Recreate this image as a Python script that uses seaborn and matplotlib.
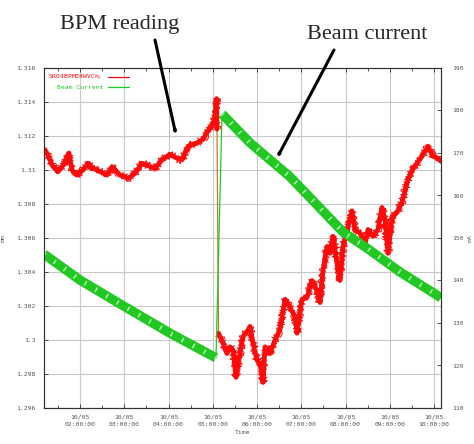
import numpy as np
import pandas as pd
import matplotlib
matplotlib.use("Agg")
import matplotlib.pyplot as plt
import matplotlib.dates as mdates
from matplotlib.ticker import FixedLocator, FuncFormatter
from matplotlib.patches import FancyArrowPatch
import seaborn as sns

# BPM vertical position (mm), hours after midnight on 10/05
bpm_hours = [1.209, 1.390, 1.503, 1.661, 1.751, 1.819, 1.932, 2.068, 2.181, 2.294,
             2.452, 2.610, 2.723, 2.904, 3.085, 3.243, 3.401, 3.582, 3.695, 3.853,
             4.034, 4.192, 4.305, 4.441, 4.644, 4.780, 4.870, 4.983, 5.051, 5.085,
             5.096,
             5.130, 5.232, 5.322, 5.390, 5.458, 5.525, 5.616, 5.684, 5.774, 5.842,
             5.910, 6.000, 6.068, 6.136, 6.181, 6.294, 6.407, 6.520, 6.633, 6.746,
             6.859, 6.904, 7.017, 7.130, 7.243, 7.356, 7.424, 7.492, 7.582, 7.650,
             7.718, 7.808, 7.876, 7.944, 8.056, 8.147, 8.215, 8.328, 8.441, 8.508,
             8.621, 8.734, 8.825, 8.893, 8.960, 9.051, 9.164, 9.277, 9.345, 9.412,
             9.503, 9.616, 9.729, 9.864, 9.977, 10.090, 10.158]
bpm_mm = [1.3112, 1.3102, 1.3099, 1.3104, 1.3110, 1.3100, 1.3097, 1.3100, 1.3104, 1.3101,
          1.3099, 1.3097, 1.3102, 1.3097, 1.3095, 1.3098, 1.3104, 1.3102, 1.3101, 1.3106,
          1.3109, 1.3107, 1.3106, 1.3114, 1.3116, 1.3118, 1.3122, 1.3126, 1.3131, 1.3142,
          1.3124,
          1.3004, 1.2998, 1.2992, 1.2996, 1.2994, 1.2978, 1.2992, 1.3002, 1.3005, 1.3008,
          1.2998, 1.2988, 1.2986, 1.2975, 1.2996, 1.2992, 1.3000, 1.3006, 1.3024, 1.3019,
          1.3014, 1.3004, 1.3024, 1.3025, 1.3035, 1.3029, 1.3022, 1.3041, 1.3055, 1.3051,
          1.3061, 1.3045, 1.3035, 1.3055, 1.3066, 1.3076, 1.3065, 1.3063, 1.3057, 1.3065,
          1.3061, 1.3065, 1.3078, 1.3071, 1.3051, 1.3072, 1.3075, 1.3081, 1.3088, 1.3094,
          1.3100, 1.3104, 1.3108, 1.3114, 1.3108, 1.3107, 1.3105]
bpm_jump = 31  # first sample after the refill step

# Stored beam current (mA)
beam_hours = [1.186, 2.000, 2.904, 4.034, 5.073, 5.209, 5.842, 6.746, 7.944, 8.486, 9.232, 10.090, 10.158]
beam_mA = [146.2, 140.1, 134.5, 127.6, 121.8, 179.2, 172.4, 164.4, 151.4, 147.6, 142.0, 136.4, 135.9]
beam_jump = 5

bpm_name = "SR04BPM04WVCh$_y$"
beam_name = "Beam Current"
left_ticks = [1.296, 1.298, 1.300, 1.302, 1.304, 1.306, 1.308, 1.310, 1.312, 1.314, 1.316]
right_ticks = [110, 120, 130, 140, 150, 160, 170, 180, 190]

day = pd.Timestamp("2008-10-05")


def to_time(hours):
    return day + pd.to_timedelta(np.asarray(hours), unit="h")


bpm = pd.DataFrame({"time": to_time(bpm_hours), "mm": bpm_mm})
beam = pd.DataFrame({"time": to_time(beam_hours), "mA": beam_mA})

sns.set_style("white")
plt.rcParams["font.family"] = ["DejaVu Sans"]

fig = plt.figure(figsize=(4.74, 4.44), dpi=100)
ax = fig.add_axes([44 / 474, 36 / 444, 397 / 474, 340 / 444])
ax2 = ax.twinx()

red = "#ff0a0a"
green = "#22c822"


def draw(frame, y, target, color, lw, **kw):
    before = len(target.lines)
    sns.lineplot(data=frame, x="time", y=y, ax=target, color=color, lw=lw,
                 sort=False, estimator=None, legend=False, **kw)
    return target.lines[before:]


# BPM trace: thin line across the step, noisy band on either side
draw(bpm, "mm", ax, "#c8781e", 0.9)
for part in (bpm.iloc[:bpm_jump], bpm.iloc[bpm_jump:]):
    draw(part, "mm", ax, red, 3.4)
    for ln in draw(part, "mm", ax, red, 0.7):
        ln.set_sketch_params(scale=4.0, length=3, randomness=4)
    for ln in draw(part, "mm", ax, red, 0.6):
        ln.set_sketch_params(scale=3.0, length=6, randomness=6)

# Beam current: thin step, thick top-up band with light streaks
draw(beam, "mA", ax2, green, 0.9)
for part in (beam.iloc[:beam_jump], beam.iloc[beam_jump:]):
    for ln in draw(part, "mA", ax2, green, 6.8):
        ln.set_solid_capstyle("butt")
    for ln in draw(part, "mA", ax2, "#b4f0b4", 3.6):
        ln.set_dashes([0.3, 2.2])
        ln.set_dash_capstyle("butt")

ax.set_xlim(to_time([1.186])[0], to_time([10.158])[0])
ax.set_ylim(1.296, 1.316)
ax2.set_ylim(110, 190)

mono = "DejaVu Sans Mono"
gray = "#555555"

ax.xaxis.set_major_locator(mdates.HourLocator())
ax.xaxis.set_minor_locator(mdates.MinuteLocator(byminute=[30]))
ax.xaxis.set_major_formatter(mdates.DateFormatter("%m/%d\n%H:%M:%S"))
ax.yaxis.set_major_locator(FixedLocator(left_ticks))
ax.yaxis.set_major_formatter(FuncFormatter(lambda v, p: f"{v:g}"))
ax2.yaxis.set_major_locator(FixedLocator(right_ticks))
ax2.yaxis.set_major_formatter(FuncFormatter(lambda v, p: f"{v:g}"))

ax.grid(True, which="major", color="#c8c8c8", lw=0.8)
ax.set_axisbelow(True)
ax2.grid(False)

ax.tick_params(axis="x", which="both", direction="in", top=True, bottom=True,
               length=3, width=0.6, color="#333333", pad=5)
ax.tick_params(axis="x", which="minor", length=2)
ax.tick_params(axis="y", direction="in", left=True, right=False, length=3,
               width=0.6, color="#333333", pad=6)
ax2.tick_params(axis="y", direction="in", right=True, length=3, width=0.6,
                color="#333333", pad=8)
for lab in ax.get_xticklabels() + ax.get_yticklabels() + ax2.get_yticklabels():
    lab.set_fontfamily(mono)
    lab.set_fontsize(4.6)
    lab.set_color(gray)
for lab in ax.get_xticklabels():
    lab.set_linespacing(1.6)

for a in (ax, ax2):
    for s in a.spines.values():
        s.set_color("#333333")
        s.set_linewidth(0.8)

ax.set_xlabel("Time", fontfamily=mono, fontsize=4.6, color=gray, labelpad=2)
ax.set_ylabel("mm", fontfamily=mono, fontsize=4.6, color=gray, labelpad=8)
ax2.set_ylabel("mA", fontfamily=mono, fontsize=4.6, color=gray, labelpad=3)

# gnuplot-style key: text first, sample line after it
handles = [plt.Line2D([], [], color=red, lw=0.9), plt.Line2D([], [], color=green, lw=0.9)]
leg = ax.legend(handles, [bpm_name, beam_name], loc="upper left", markerfirst=False,
                frameon=False, handlelength=3.2, handletextpad=0.8, borderaxespad=0.3,
                labelspacing=0.3, bbox_to_anchor=(0.0, 1.0),
                prop=dict(family=mono, size=4.6))
for txt, col in zip(leg.get_texts(), [red, green]):
    txt.set_color(col)
    txt.set_ha("right")

# Callouts
serif = ["Liberation Serif", "DejaVu Serif"]
fig.text(60 / 474, 1 - 29 / 444, "BPM reading", fontsize=16, family=serif)
fig.text(307 / 474, 1 - 39 / 444, "Beam current", fontsize=16, family=serif)
arrow = dict(arrowstyle="-|>,head_length=0.9,head_width=0.35", color="black", lw=2.2,
             shrinkA=0, shrinkB=0, transform=fig.transFigure)
fig.add_artist(FancyArrowPatch((155 / 474, 1 - 40 / 444), (176 / 474, 1 - 135 / 444), **arrow))
fig.add_artist(FancyArrowPatch((334 / 474, 1 - 50 / 444), (277 / 474, 1 - 158 / 444), **arrow))

fig.savefig("out.png", dpi=100, facecolor="white")
